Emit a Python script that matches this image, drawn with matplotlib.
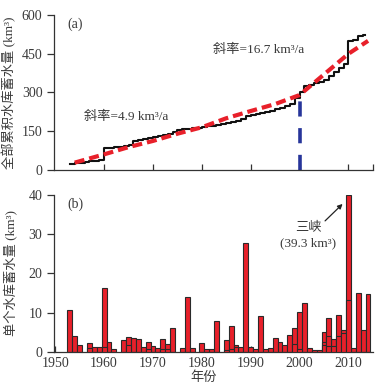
import numpy as np
import matplotlib
matplotlib.use("Agg")
import matplotlib.pyplot as plt

plt.rcParams['font.family'] = ['Liberation Serif', 'Noto Sans CJK SC']
plt.rcParams['font.size'] = 9

# ---- (a) cumulative storage of all reservoirs (km3), step line ----
cum_years = [1953, 1954, 1955, 1956, 1957, 1958, 1959, 1960, 1961, 1962,
             1963, 1964, 1965, 1966, 1967, 1968, 1969, 1970, 1971, 1972,
             1973, 1974, 1975, 1976, 1977, 1978, 1979, 1980, 1981, 1982,
             1983, 1984, 1985, 1986, 1987, 1988, 1989, 1990, 1991, 1992,
             1993, 1994, 1995, 1996, 1997, 1998, 1999, 2000, 2001, 2002,
             2003, 2004, 2005, 2006, 2007, 2008, 2009, 2010, 2011, 2012,
             2013, 2013.3]
cum_vals = [24, 26, 28, 30, 33, 36, 39, 84, 86, 88,
            90, 94, 98, 112, 115, 118, 124, 128, 132, 136,
            140, 145, 155, 157, 159, 162, 164, 166, 168, 170,
            174, 178, 182, 186, 190, 196, 210, 213, 216, 222,
            226, 230, 236, 240, 246, 256, 277, 303, 325, 330,
            335, 340, 350, 365, 380, 395, 412, 500, 502, 520,
            522, 522]

# fitted curve (red dashed)
fit_years = [1954, 1960, 1965, 1970, 1975, 1980, 1985, 1990, 1995, 2000,
             2005, 2010, 2014]
fit_vals = [28, 60, 88, 112, 140, 165, 200, 228, 255, 290, 370, 450, 500]

split_year = 2000
split_val = 286

# ---- (b) storage of single reservoirs (km3) ----
bar_years = [1953, 1954, 1955, 1957, 1958, 1959, 1960, 1961, 1962,
             1964, 1965, 1966, 1967, 1968, 1969, 1970, 1971, 1972, 1973, 1974,
             1976, 1977, 1978, 1980, 1981, 1982, 1983,
             1985, 1986, 1987, 1988, 1989, 1990, 1991, 1992, 1993, 1994,
             1995, 1996, 1997, 1998, 1999, 2000, 2001, 2002, 2003, 2004,
             2005, 2006, 2007, 2008, 2009, 2010, 2011, 2012, 2013, 2014]
bar_vals = [10.8, 4.1, 1.7, 2.4, 1.2, 1.4, 16.2, 2.6, 0.7,
            3.0, 3.9, 3.6, 3.4, 1.2, 2.6, 1.5, 0.9, 3.4, 2.1, 6.1,
            0.9, 13.9, 1.1, 2.2, 0.7, 0.7, 7.8,
            3.0, 6.6, 1.9, 1.4, 27.8, 1.3, 0.7, 9.2, 0.7, 0.9,
            3.5, 2.5, 1.7, 4.4, 6.1, 10.2, 12.5, 1.0, 0.5, 0.6,
            5.0, 8.6, 3.2, 9.4, 5.6, 40.0, 0.9, 15.0, 5.6, 14.8]

# smaller reservoirs of the same year (inner lines)
inner_years = [1957, 1960, 1965, 1969, 1972, 1973, 1985, 1986, 1987,
               1999, 2000, 2005, 2005, 2006, 2006, 2007, 2008, 2009, 2010]
inner_vals = [0.9, 1.2, 1.7, 0.8, 0.8, 0.7, 0.6, 0.8, 1.3,
              2.0, 0.7, 2.5, 1.7, 4.1, 1.5, 1.5, 4.1, 4.9, 13.2]

tick_years = [1950, 1960, 1970, 1980, 1990, 2000, 2010]

red = '#e8202a'
blue = '#27359a'
txt = '#3a3a3a'

fig = plt.figure(figsize=(3.79, 3.86), dpi=100)
ax1 = fig.add_axes([0.143, 0.560, 0.841, 0.401])
ax2 = fig.add_axes([0.143, 0.088, 0.841, 0.407])

for ax in (ax1, ax2):
    ax.spines['top'].set_visible(False)
    ax.spines['right'].set_visible(False)
    for s in ('left', 'bottom'):
        ax.spines[s].set_color('#333333')
        ax.spines[s].set_linewidth(0.9)
    ax.tick_params(axis='y', direction='out', length=5, width=0.9,
                   colors='#333333', labelcolor=txt, labelsize=10)
    ax.tick_params(axis='x', direction='in', length=4, width=0.9,
                   colors='#333333', labelcolor=txt, labelsize=10)
    ax.set_xlim(1949.8, 2015)

# ---- panel (a) ----
ax1.step(cum_years, cum_vals, where='post', color='#111111', lw=1.5, zorder=3)
ax1.plot(fit_years, fit_vals, color=red, lw=3.0, dashes=(2.4, 1.2),
         zorder=4)
ax1.plot([split_year, split_year], [0, split_val], color=blue, lw=2.6,
         dashes=(4.2, 3.2), zorder=2)
ax1.set_ylim(0, 600)
ax1.set_yticks([0, 150, 300, 450, 600])
ax1.set_xticks(tick_years[1:] + [2015])
ax1.set_xticklabels([])
ax1.set_ylabel('全部累积水库蓄水量 (km³)', color=txt, fontsize=9.5,
               labelpad=4)
ax1.text(0.04, 0.985, '(a)', transform=ax1.transAxes, ha='left', va='top',
         fontsize=10, color=txt)
ax1.text(1955.9, 205, '斜率=4.9 km³/a', fontsize=9.5, color=txt,
         ha='left', va='center')
ax1.text(1982.3, 464, '斜率=16.7 km³/a', fontsize=9.5, color=txt,
         ha='left', va='center')

# ---- panel (b) ----
ax2.bar(bar_years, bar_vals, width=1.0, color=red, edgecolor='#2a2a2a',
        linewidth=0.8, zorder=2)
ax2.bar(inner_years, inner_vals, width=1.0, color=red, edgecolor='#2a2a2a',
        linewidth=0.8, zorder=3)
ax2.set_ylim(0, 40)
ax2.set_yticks([0, 10, 20, 30, 40])
ax2.set_xticks(tick_years)
ax2.set_ylabel('单个水库蓄水量 (km³)', color=txt, fontsize=9.5,
               labelpad=8)
ax2.set_xlabel('年份', color=txt, fontsize=9.5)
ax2.xaxis.set_label_coords(0.47, -0.125)
ax2.text(0.04, 0.985, '(b)', transform=ax2.transAxes, ha='left', va='top',
         fontsize=10, color=txt)
ax2.annotate('', xy=(2009.2, 38.2), xytext=(2004.8, 32.9),
             arrowprops=dict(arrowstyle='-|>', color='#222222', lw=0.9,
                             mutation_scale=7))
ax2.text(2001.7, 31.5, '三峡', fontsize=9.5, color=txt, ha='center',
         va='center')
ax2.text(2001.7, 27.6, '(39.3 km³)', fontsize=9.5, color=txt,
         ha='center', va='center')

fig.savefig('out.png', dpi=100)
